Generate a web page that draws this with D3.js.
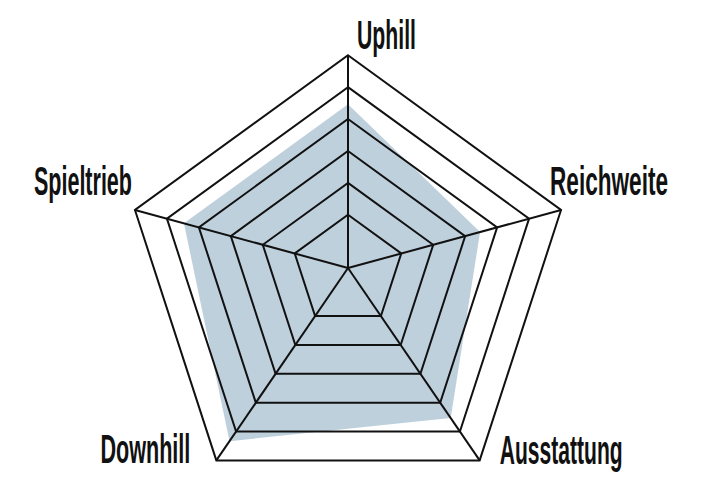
<!DOCTYPE html>
<html>
<head>
<meta charset="utf-8">
<script src="https://cdn.jsdelivr.net/npm/d3@7"></script>
<style>
  html, body { margin: 0; padding: 0; background: #fff; }
  .axis-label {
    font-family: "Liberation Sans", Arial, sans-serif;
    font-weight: bold;
    font-size: 40px;
    fill: #111;
  }
</style>
</head>
<body>
<svg id="chart" width="712" height="477"></svg>
<script>
// Axes, clockwise from the top
const axes = ["Uphill", "Reichweite", "Ausstattung", "Downhill", "Spieltrieb"];
// Ratings (0-10)
const values = [7.7, 6.2, 7.8, 9.0, 7.7];
// Grid ring levels
const rings = [2.5, 4, 5.5, 7, 8.5, 10];

const width = 712, height = 477;
const cx = 348, cy = 268;
const radius = 224;
// the grid is not quite centred on the hub; rings drift a bit downwards
const drop = 0.05;

// Label placement relative to each outer vertex (w = printed width)
const labelStyle = {
  "Uphill":      { anchor: "start", dx: 9,   dy: -6,  w: 59 },
  "Reichweite":  { anchor: "start", dx: -11, dy: -15, w: 118 },
  "Ausstattung": { anchor: "start", dx: 20,  dy: 4,   w: 123 },
  "Downhill":    { anchor: "end",   dx: -26, dy: 2.5, w: 90 },
  "Spieltrieb":  { anchor: "end",   dx: -3,  dy: -15, w: 98 }
};

const svg = d3.select("#chart")
  .attr("viewBox", `0 0 ${width} ${height}`);

const g = svg.append("g").attr("transform", `translate(${cx},${cy})`);

const r = d3.scaleLinear().domain([0, 10]).range([0, radius]);
const angle = d3.scalePoint().domain(axes).range([0, 2 * Math.PI * (axes.length - 1) / axes.length]);

function point(axis, v) {
  const a = angle(axis);
  const len = r(v);
  return [len * Math.sin(a), len * (-Math.cos(a) + drop)];
}

const line = d3.line().curve(d3.curveLinearClosed);

// Data area, behind the grid
g.append("path")
  .attr("d", line(axes.map((a, i) => point(a, values[i]))))
  .attr("fill", "#bfd0dd")
  .attr("stroke", "none");

// Rings
g.selectAll("path.ring")
  .data(rings)
  .enter()
  .append("path")
  .attr("class", "ring")
  .attr("d", lv => line(axes.map(a => point(a, lv))))
  .attr("fill", "none")
  .attr("stroke", "#111")
  .attr("stroke-width", 2)
  .attr("stroke-linejoin", "miter");

// Spokes
g.selectAll("line.spoke")
  .data(axes)
  .enter()
  .append("line")
  .attr("class", "spoke")
  .attr("x1", 0)
  .attr("y1", 0)
  .attr("x2", a => point(a, d3.max(rings))[0])
  .attr("y2", a => point(a, d3.max(rings))[1])
  .attr("stroke", "#111")
  .attr("stroke-width", 2);

// Labels: a condensed look, squeezed horizontally to the printed width
g.selectAll("text.axis-label")
  .data(axes)
  .enter()
  .append("text")
  .attr("class", "axis-label")
  .attr("text-anchor", a => labelStyle[a].anchor)
  .text(a => a)
  .each(function(a) {
    const s = labelStyle[a];
    const p = point(a, d3.max(rings));
    const k = s.w / this.getComputedTextLength();
    d3.select(this)
      .attr("transform", `translate(${p[0] + s.dx},${p[1] + s.dy}) scale(${k},1)`);
  });
</script>
</body>
</html>
